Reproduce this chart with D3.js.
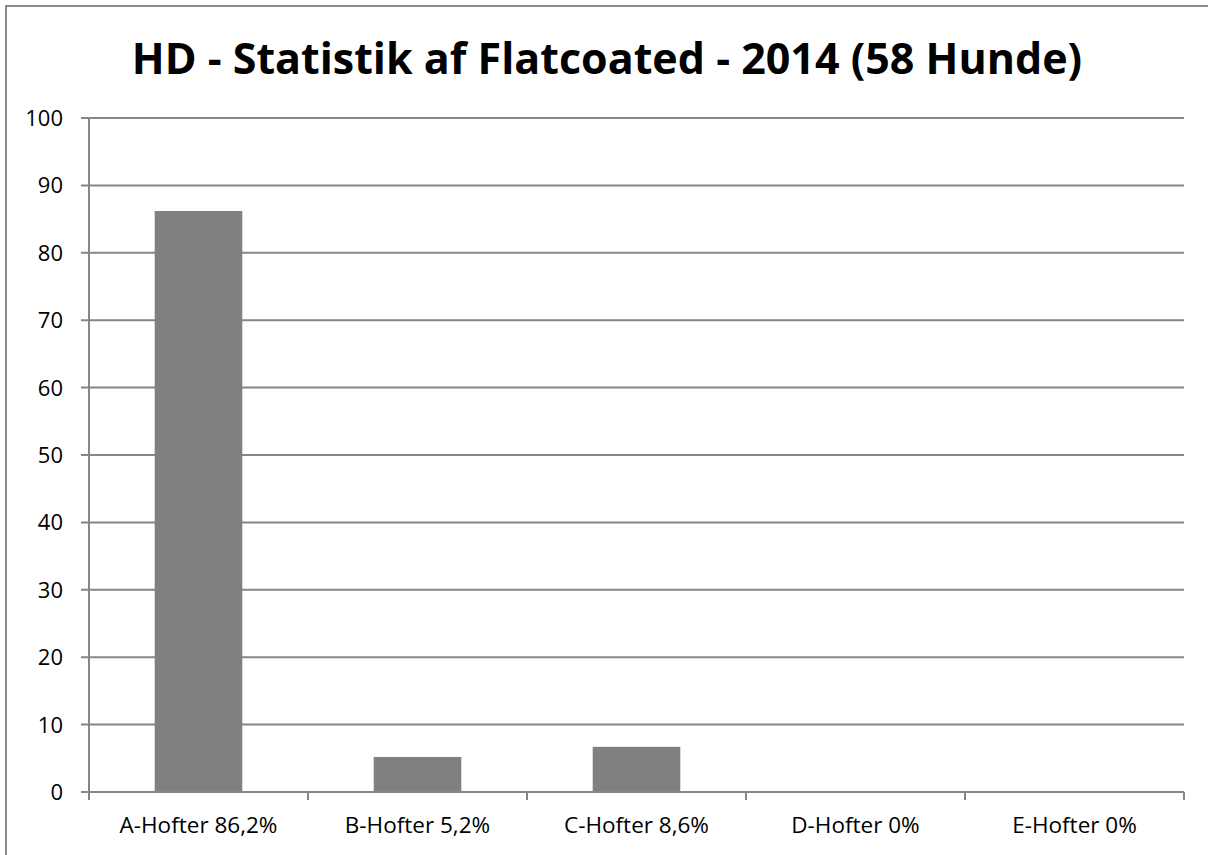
<!DOCTYPE html>
<meta charset="utf-8">
<style>
body { margin: 0; background: #fff; }
text { font-family: "Open Sans", "Noto Sans", sans-serif; fill: #000; }
.grid line { stroke: #868686; stroke-width: 2; }
.bar { fill: #808080; }
</style>
<body>
<script src="https://d3js.org/d3.v7.min.js"></script>
<script>

// data
var categories = ["A-Hofter 86,2%", "B-Hofter 5,2%", "C-Hofter 8,6%", "D-Hofter 0%", "E-Hofter 0%"];
var values = [86.2, 5.2, 6.7, 0, 0];
var yTicks = [0, 10, 20, 30, 40, 50, 60, 70, 80, 90, 100];
var title = "HD - Statistik af Flatcoated - 2014 (58 Hunde)";

var width = 1208, height = 855;
var margin = {top: 118, right: 24, bottom: 63, left: 89};
var w = width - margin.left - margin.right,
    h = height - margin.top - margin.bottom;

var svg = d3.select("body").append("svg")
    .attr("width", width)
    .attr("height", height);

// chart border
svg.append("rect")
    .attr("x", 6).attr("y", 6)
    .attr("width", width).attr("height", height)
    .attr("fill", "none")
    .attr("stroke", "#898989")
    .attr("stroke-width", 2);

svg.append("text")
    .attr("x", 607)
    .attr("y", 74)
    .attr("text-anchor", "middle")
    .style("font-size", "43px")
    .style("font-weight", "bold")
    .text(title);

var g = svg.append("g")
    .attr("transform", "translate(" + margin.left + "," + margin.top + ")");

var x = d3.scaleBand()
    .domain(categories)
    .range([0, w])
    .paddingInner(0.6)
    .paddingOuter(0.3);

var y = d3.scaleLinear()
    .domain([0, 100])
    .range([h, 0]);

// gridlines + y ticks
var grid = g.append("g").attr("class", "grid");
grid.selectAll("line")
    .data(yTicks)
    .enter().append("line")
    .attr("x1", -8)
    .attr("x2", w)
    .attr("y1", function(d) { return y(d); })
    .attr("y2", function(d) { return y(d); });

g.selectAll(".ylab")
    .data(yTicks)
    .enter().append("text")
    .attr("class", "ylab")
    .attr("x", -26)
    .attr("y", function(d) { return y(d); })
    .attr("dy", "0.36em")
    .attr("text-anchor", "end")
    .style("font-size", "22px")
    .text(function(d) { return d; });

// y axis line
g.append("line")
    .attr("x1", 0).attr("x2", 0)
    .attr("y1", 0).attr("y2", h + 8)
    .attr("stroke", "#868686").attr("stroke-width", 2);

// bars
g.selectAll(".bar")
    .data(values)
    .enter().append("rect")
    .attr("class", "bar")
    .attr("x", function(d, i) { return x(categories[i]); })
    .attr("width", x.bandwidth())
    .attr("y", function(d) { return y(d); })
    .attr("height", function(d) { return h - y(d); });

// x axis line and category ticks
g.append("line")
    .attr("x1", 0).attr("x2", w)
    .attr("y1", h).attr("y2", h)
    .attr("stroke", "#868686").attr("stroke-width", 2);

var step = x.step();
g.selectAll(".xtick")
    .data(d3.range(categories.length + 1))
    .enter().append("line")
    .attr("class", "xtick")
    .attr("x1", function(i) { return i * step; })
    .attr("x2", function(i) { return i * step; })
    .attr("y1", h).attr("y2", h + 8)
    .attr("stroke", "#868686").attr("stroke-width", 2);

g.selectAll(".xlab")
    .data(categories)
    .enter().append("text")
    .attr("class", "xlab")
    .attr("x", function(d) { return x(d) + x.bandwidth() / 2; })
    .attr("y", h + 41)
    .attr("text-anchor", "middle")
    .style("font-size", "22.5px")
    .text(function(d) { return d; });

</script>
</body>
